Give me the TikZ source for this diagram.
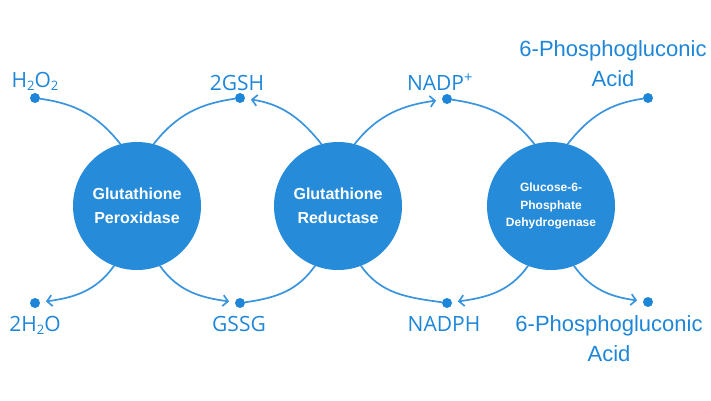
\documentclass[tikz,border=0pt]{standalone}
\usepackage{fontspec}
\setmainfont{Liberation Sans}
\newfontfamily\chemfont{Open Sans}
\usetikzlibrary{arrows.meta}
\definecolor{circblue}{RGB}{38,139,216}
\definecolor{txtblue}{RGB}{30,134,216}
\definecolor{lineblue}{RGB}{58,148,222}
\newcommand{\lowsub}[1]{\raisebox{-0.28ex}{\fontsize{13}{13}\selectfont #1}}
\tikzset{
  enzyme/.style={circle, fill=circblue, draw=none, minimum size=128pt, inner sep=0pt, outer sep=0pt,
    text=white, font=\bfseries\fontsize{16}{24}\selectfont, align=center},
  dotnode/.style={circle, fill=txtblue, minimum size=10pt, inner sep=0pt, outer sep=0pt},
  chem/.style={text=txtblue, font=\chemfont\fontsize{21}{21}\selectfont, inner sep=0pt, anchor=base},
  acid/.style={text=txtblue, font=\fontsize{22}{30}\selectfont, inner sep=0pt, anchor=base, align=center},
  link/.style={draw=lineblue, line width=1.7pt},
  arr/.style={link, -{Straight Barb[length=5pt,width=11pt,line width=1.7pt]}, shorten >=6pt}
}
\begin{document}
\begin{tikzpicture}[x=1pt,y=1pt]
\useasboundingbox (0,0) rectangle (711,400);
% enzymes
\node[enzyme] (c1) at (137,194) {Glutathione\\Peroxidase};
\node[enzyme] (c2) at (338,194) {Glutathione\\Reductase};
\node[enzyme, font=\bfseries\fontsize{12}{17.5}\selectfont] (c3) at (551,194) {Glucose-6-\\Phosphate\\Dehydrogenase};
% dots
\node[dotnode] (h2o2) at (35,302) {};
\node[dotnode] (gsh) at (240,302) {};
\node[dotnode] (nadp) at (447,301) {};
\node[dotnode] (pga) at (648,302) {};
\node[dotnode] (h2o) at (35,97) {};
\node[dotnode] (gssg) at (240,97) {};
\node[dotnode] (nadph) at (447,97) {};
\node[dotnode] (pgb) at (648,98) {};
% labels
\node[chem] (lh2o2) at (35,313) {H\lowsub{2}O\lowsub{2}};
\node[chem] (lgsh) at (237,310) {2GSH};
\node[chem] (lnadp) at (440,310) {NADP\textsuperscript{+}};
\node[acid] (lpga) at (613,313.5) {6-Phosphogluconic\\Acid};
\node[chem] (lh2o) at (35,69) {2H\lowsub{2}O};
\node[chem] (lgssg) at (239,69) {GSSG};
\node[chem] (lnadph) at (444,69) {NADPH};
\node[acid] (lpgb) at (609,38.5) {6-Phosphogluconic\\Acid};
% top connectors
\draw[link] (h2o2) to[out=-8, in=128] (c1.105);
\draw[link] (c1.75) to[out=52, in=188] (gsh);
\draw[arr] (c2.105) to[out=128, in=-8] (gsh);
\draw[arr] (c2.75) to[out=52, in=188] (nadp);
\draw[link] (nadp) to[out=-8, in=128] (c3.105);
\draw[link] (c3.75) to[out=52, in=188] (pga);
% bottom connectors
\draw[arr] (c1.-111) to[out=-125, in=8] (h2o);
\draw[arr] (c1.-69) to[out=-55, in=172] (gssg);
\draw[link] (c2.-111) to[out=-125, in=8] (gssg);
\draw[link] (c2.-69) to[out=-55, in=172] (nadph);
\draw[arr] (c3.-111) to[out=-125, in=8] (nadph);
\draw[arr] (c3.-69) to[out=-55, in=172] (pgb);
\end{tikzpicture}
\end{document}
